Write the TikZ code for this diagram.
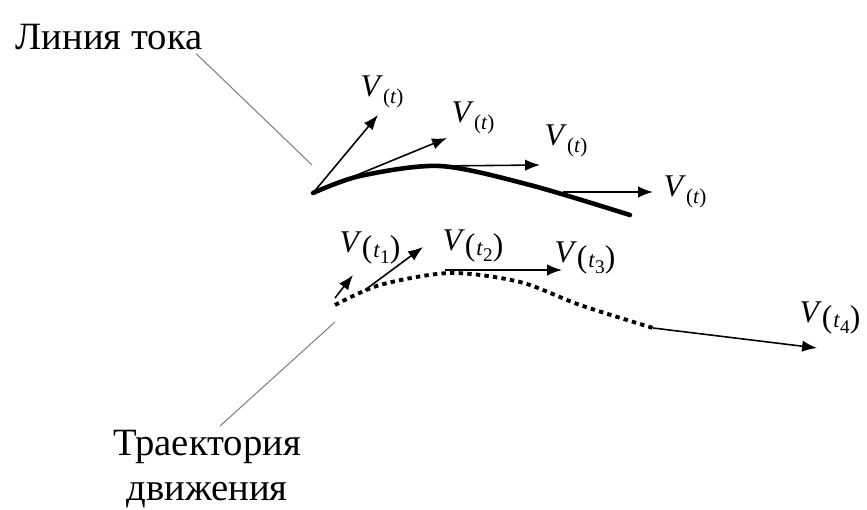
\documentclass[tikz,border=0pt]{standalone}
\usepackage{fontspec}
\setmainfont{Liberation Serif}
\usetikzlibrary{arrows.meta}
\newcommand{\vel}{\textit{V}\raisebox{-0.45ex}{\fontsize{12}{12}\selectfont(\textit{t})}}
\newcommand{\veln}[1]{\textit{V}\raisebox{-0.4ex}{(\kern0.03em{\fontsize{13}{13}\selectfont\textit{t}\raisebox{-0.55ex}{\fontsize{11}{11}\selectfont #1}})}}
\tikzset{
  vec/.style={line width=0.9pt, -{Latex[length=8.5pt,width=6.5pt]}},
  leader/.style={gray, line width=0.6pt},
  lbl/.style={font=\fontsize{22}{26}\selectfont, inner sep=2pt},
  vlbl/.style={font=\fontsize{18}{18}\selectfont, inner sep=0pt},
}
\begin{document}
\begin{tikzpicture}[x=0.02cm, y=-0.02cm]
        \useasboundingbox (0,0) rectangle (867,510);
        %labels
        \node[lbl] (lbltok) at (109,37) {Линия тока};
        \node[lbl, align=center, anchor=north] (lbltraj) at (207,426) {Траектория\\движения};
        \coordinate (tokpt) at (312,165);
        \coordinate (trajpt) at (335,322);
        \draw[leader] ([xshift=-0.2cm]lbltok.south east) -- (tokpt);
        \draw[leader] ([xshift=0.26cm]lbltraj.north) -- (trajpt);
        %streamline
        \coordinate (s0) at (313,193);
        \coordinate (s1) at (440,166);
        \coordinate (s2) at (563,192);
        \draw[line width=2.6pt, line cap=round] plot[smooth] coordinates {(313,193) (360,176) (440,166) (530,185) (630,215)};
        \draw[vec] (s0) -- (378,115);
        \draw[vec] (s0) -- (447,138);
        \draw[vec] (s1) -- (540,165);
        \draw[vec] (s2) -- (653,192);
        \node[vlbl] (v1) at (382,92) {\vel};
        \node[vlbl] (v2) at (473,118) {\vel};
        \node[vlbl] (v3) at (566,141) {\vel};
        \node[vlbl] (v4) at (685,192) {\vel};
        %trajectory
        \coordinate (b0) at (335,298);
        \coordinate (b1) at (365,290);
        \coordinate (b2) at (445,270);
        \coordinate (b3) at (653,328);
        \draw[line width=2.2pt, dash pattern=on 2.5pt off 2.4pt] plot[smooth] coordinates {(335,305) (380,285) (450,273) (520,282) (580,305) (653,328)};
        \draw[vec] (b0) -- (353,275);
        \draw[vec] (b1) -- (423,247);
        \draw[vec] (b2) -- (562,270);
        \draw[vec] (b3) -- (817,348);
        \node[vlbl] (t1) at (370,248) {\veln{1}};
        \node[vlbl] (t2) at (473,246) {\veln{2}};
        \node[vlbl] (t3) at (585,258) {\veln{3}};
        \node[vlbl] (t4) at (830,318) {\veln{4}};
    \end{tikzpicture}
\end{document}
